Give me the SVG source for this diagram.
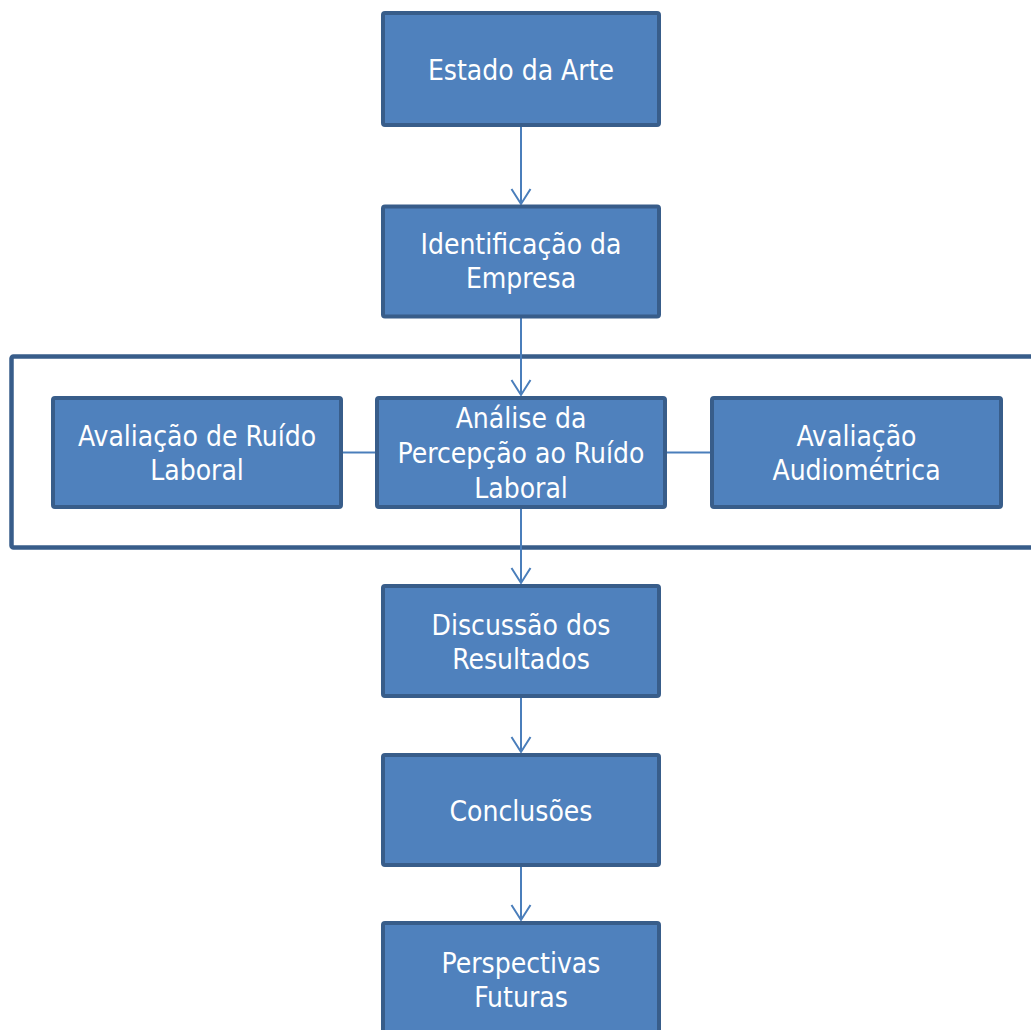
<svg xmlns="http://www.w3.org/2000/svg" width="1031" height="1030" viewBox="0 0 1031 1030">
<defs>
<style>
.box{fill:#4f81bd;stroke:#385d8a;stroke-width:4;}
.frame{fill:none;stroke:#385d8a;stroke-width:4.5;}
.lbl{font-family:"DejaVu Sans Condensed","DejaVu Sans",sans-serif;font-size:28px;fill:#ffffff;text-anchor:middle;}
.con{fill:none;stroke:#4a7ebb;stroke-width:2;}
</style>
<marker id="arr" markerUnits="userSpaceOnUse" markerWidth="24" markerHeight="24" viewBox="-20 -12 22 24" refX="0" refY="0" orient="auto" overflow="visible">
<path d="M-15,-9.5 L0,0 L-15,9.5" fill="none" stroke="#4a7ebb" stroke-width="2"/>
</marker>
</defs>
<rect width="1031" height="1030" fill="#ffffff"/>
<g id="container">
<rect class="frame" x="11.5" y="356.5" width="1030" height="191" rx="2"/>
</g>
<g id="connectors">
<line class="con" x1="521" y1="127" x2="521" y2="204" marker-end="url(#arr)"/>
<line class="con" x1="521" y1="318" x2="521" y2="395" marker-end="url(#arr)"/>
<line class="con" x1="521" y1="509" x2="521" y2="583" marker-end="url(#arr)"/>
<line class="con" x1="521" y1="698" x2="521" y2="752" marker-end="url(#arr)"/>
<line class="con" x1="521" y1="867" x2="521" y2="920" marker-end="url(#arr)"/>
<line class="con" x1="343" y1="452.5" x2="375" y2="452.5"/>
<line class="con" x1="667" y1="452.5" x2="710" y2="452.5"/>
</g>
<g id="estado">
<rect class="box" x="383" y="13" width="276" height="112" rx="2"/>
<text class="lbl" x="521" y="80">Estado da Arte</text>
</g>
<g id="identificacao">
<rect class="box" x="383" y="206.5" width="276" height="110" rx="2"/>
<text class="lbl" x="521" y="254">Identificação da</text>
<text class="lbl" x="521" y="288">Empresa</text>
</g>
<g id="ruido">
<rect class="box" x="53" y="398" width="288" height="109" rx="2"/>
<text class="lbl" x="197" y="446">Avaliação de Ruído</text>
<text class="lbl" x="197" y="480">Laboral</text>
</g>
<g id="percepcao">
<rect class="box" x="377" y="398" width="288" height="109" rx="2"/>
<text class="lbl" x="521" y="428">Análise da</text>
<text class="lbl" x="521" y="463">Percepção ao Ruído</text>
<text class="lbl" x="521" y="498">Laboral</text>
</g>
<g id="audiometrica">
<rect class="box" x="712" y="398" width="289" height="109" rx="2"/>
<text class="lbl" x="856.5" y="446">Avaliação</text>
<text class="lbl" x="856.5" y="480">Audiométrica</text>
</g>
<g id="discussao">
<rect class="box" x="383" y="586" width="276" height="110" rx="2"/>
<text class="lbl" x="521" y="635">Discussão dos</text>
<text class="lbl" x="521" y="669">Resultados</text>
</g>
<g id="conclusoes">
<rect class="box" x="383" y="755" width="276" height="110" rx="2"/>
<text class="lbl" x="521" y="821">Conclusões</text>
</g>
<g id="perspectivas">
<rect class="box" x="383" y="923" width="276" height="112" rx="2"/>
<text class="lbl" x="521" y="973">Perspectivas</text>
<text class="lbl" x="521" y="1007">Futuras</text>
</g>
</svg>
